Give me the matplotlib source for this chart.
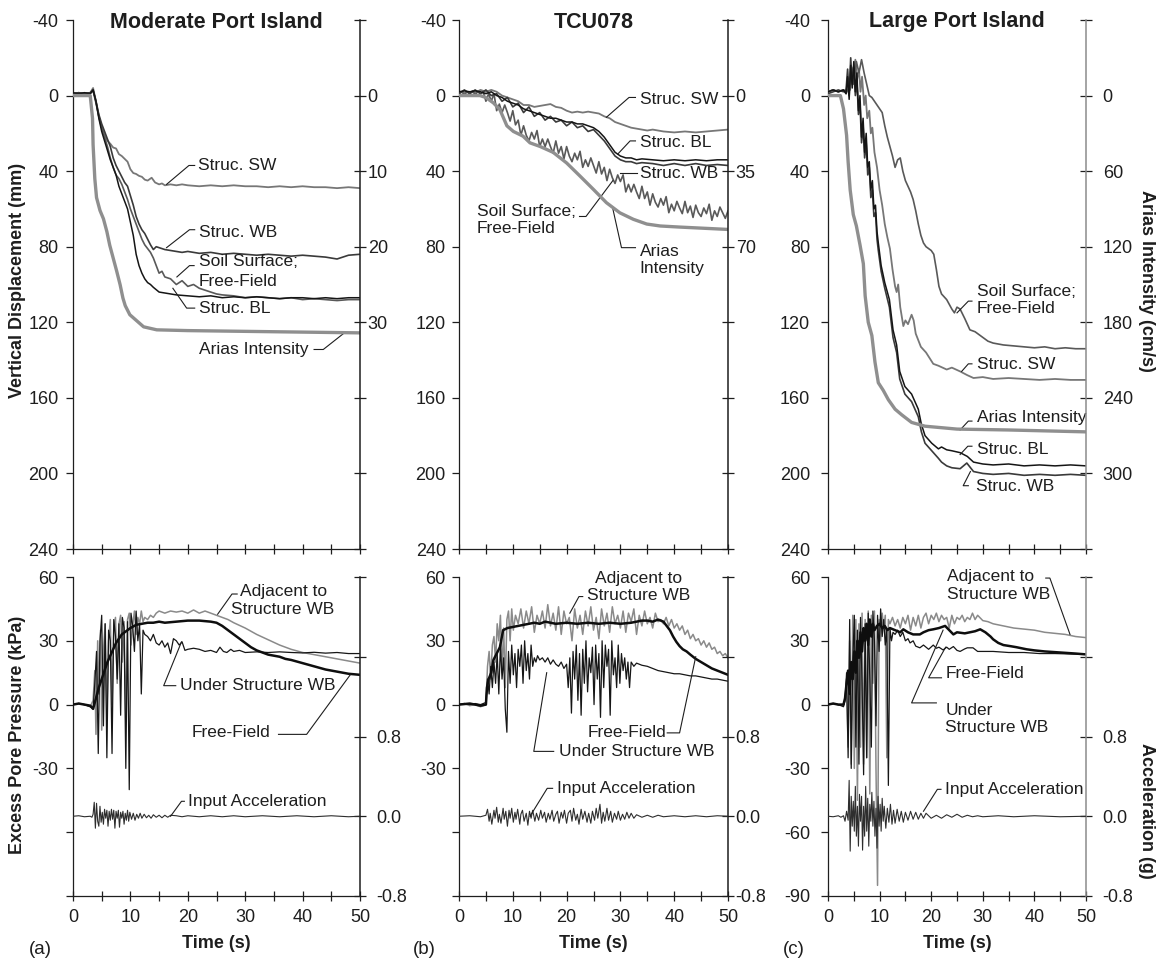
import matplotlib
matplotlib.use("Agg")
import matplotlib.pyplot as plt

plt.rcParams['font.family'] = ['Liberation Sans', 'DejaVu Sans']
plt.rcParams['axes.unicode_minus'] = False
INK = '#1e1e1e'
plt.rcParams['text.color'] = INK
plt.rcParams['axes.edgecolor'] = INK
plt.rcParams['xtick.color'] = INK
plt.rcParams['ytick.color'] = INK

# ---------------------------------------------------------------------------
# Settlement records: (time s, vertical displacement mm); Arias in cm/s
# ---------------------------------------------------------------------------
SW_A = [(0,-1),(1,-1.5),(2,-1),(3,-1.5),(3.5,-4),(4,3),(4.5,11),(5,17),(5.5,21),(6,24),(6.5,25.5),(7,27.5),(7.5,28),(8,31),(8.5,32),(9,33.5),(9.5,35),(10,39),(10.5,41),(11,41.5),(11.5,42.5),(12,43),(12.5,44.5),(13,45),(13.7,43.5),(14.3,46),(15,47),(15.5,46.5),(16,47.5),(17,47),(18,47.5),(19,47),(20,47.5),(22,48),(24,47.5),(26,48),(28,47.5),(30,48),(32,48),(34,48.5),(36,48),(38,48.5),(40,48),(42,48.5),(44,48.5),(46,49),(48,48.5),(50,49)]
WB_A = [(0,-1),(1,-1.5),(2,-1),(3,-1.5),(3.5,-3),(4,3),(4.5,10),(5,15),(5.5,19),(6,23),(6.5,27),(7,33),(7.5,37),(8,40),(8.5,43),(9,46),(9.5,48),(10,53),(10.5,58),(11,64),(11.5,68),(12,71),(12.5,73),(13,76),(13.5,79),(14,81.5),(14.5,80),(15,80.5),(16,81.5),(17,82),(18,82.5),(19,83),(20,82.5),(22,83.5),(24,83),(26,84),(28,83.5),(30,84),(32,84.5),(34,84),(36,84.5),(38,85),(40,84.5),(42,85),(44,85.5),(45,86),(46,86.5),(47,85.5),(48,84.5),(50,84)]
FF_A = [(0,-1),(1,-1),(2,-1.5),(3,-1),(3.5,-2.5),(4,4),(4.5,11),(5,17),(5.5,22),(6,27),(6.5,33),(7,38),(7.5,42),(8,44),(8.5,47),(9,51),(9.5,55),(10,60),(10.5,64),(11,68),(11.5,72),(12,76),(12.5,79),(13,81),(13.5,83),(14,86),(14.5,90),(15,94),(15.5,93),(16,96),(17,97),(18,100),(19,98),(20,101),(21,100),(22,102),(23,103),(24,104),(25,105),(26,105.5),(28,106),(30,107),(32,106.5),(34,107),(36,107.5),(38,107),(40,108),(42,107.5),(44,108),(46,108.5),(48,108),(50,108)]
BL_A = [(0,-1.5),(1,-1),(2,-1.5),(3,-1),(3.5,-3),(4,3),(4.5,12),(5,19),(5.5,24),(6,29),(6.5,34),(7,38),(7.5,42),(8,48),(8.5,52),(9,56),(9.5,60),(10,67),(10.5,74),(11,84),(11.5,90),(12,94),(12.5,97),(13,99),(13.5,100),(14,101.5),(15,104),(16,104.5),(17,105),(18,105.5),(20,106),(22,106.5),(24,106),(26,107),(28,106.5),(30,107),(32,106.5),(34,107),(36,107.5),(38,107),(40,107),(42,107.5),(44,107),(46,107.5),(48,107),(50,107)]
ARIAS_A = [(0,0),(3,0),(3.4,3),(3.5,6.5),(3.8,11),(4.1,13.5),(4.7,15.2),(5.3,16.3),(5.9,18),(6.4,19.8),(7,21.5),(7.6,23.2),(8.2,25),(8.7,26.8),(9.1,27.8),(9.9,29),(11.1,29.8),(12.3,30.6),(14.6,31),(20,31.1),(30,31.2),(40,31.3),(50,31.4)]

SW_B = [(0,-2),(1,-1.5),(2,-2),(3,-1.5),(4,-3),(5,-2),(6,-3),(7,-2),(8,0),(9,1),(10,2),(11,3),(12,5),(13,5),(14,6),(15,5.5),(16,5),(17,4.5),(18,6),(19,6.5),(20,8),(21,9),(22,8.5),(23,9),(24,8.5),(25,9),(26,9.5),(27,11),(28,12),(29,14),(30,15),(31,16),(32,17),(33,17.5),(34,18),(35,18.5),(36,18),(38,19),(40,19.5),(42,19),(44,19.5),(46,19),(48,18.5),(50,18)]
BL_B = [(0,-2),(1,-2.5),(2,-2),(3,-2.5),(4,-2),(5,-1),(6,-2),(7,0),(8,1),(9,3),(10,4),(11,5),(12,7),(13,8),(14,9),(15,10),(16,11),(17,12),(18,12),(19,13),(20,14),(21,14),(22,15),(23,15),(24,16),(25,17),(26,19),(27,22),(28,26),(29,30),(30,32),(31,33),(32,33),(33,34),(34,33.5),(36,34),(38,34.5),(40,34),(42,34.5),(44,34),(46,34.5),(48,34),(50,34)]
WB_B = [(0,-1),(1,-3),(2,-1),(3,-3),(4,-1),(5,-3),(6,0),(7,-1),(8,3),(9,1),(10,6),(11,4),(12,9),(13,6),(14,11),(15,9),(16,13),(17,11),(18,14),(19,13),(20,16),(21,14),(22,17),(23,16),(24,19),(25,18),(26,21),(27,24),(28,28),(29,32),(30,34),(31,35),(32,35),(33,36),(34,35.5),(36,36),(38,37),(40,36),(42,37),(44,36),(46,37),(48,36.5),(50,37)]
FF_B = [(0,-1),(0.5,-2),(1,-0.5),(1.5,-2),(2,-1),(2.5,-2.5),(3,-0.5),(3.5,-2),(4,-1),(4.5,-2),(5,3),(5.5,-1),(6,3),(6.5,-1),(7,8),(7.5,4.5),(8,9),(8.5,5),(9,9),(9.5,13.5),(10,8),(10.5,15.5),(11,13),(11.5,21),(12,16),(12.5,21),(13,24),(13.5,19.5),(14,23),(14.5,18.5),(15,27),(15.5,23),(16,27),(16.5,23),(17,27),(17.5,30.5),(18,24),(18.5,30.5),(19,27),(19.5,33.5),(20,27),(20.5,32),(21,35),(21.5,30.5),(22,34),(22.5,29.5),(23,38),(23.5,34),(24,37.5),(24.5,33),(25,37),(25.5,41),(26,35),(26.5,41.5),(27,38),(27.5,45),(28,39),(28.5,43.5),(29,46.5),(29.5,42),(30,45.5),(30.5,42),(31,51),(31.5,47),(32,51),(32.5,47),(33,51),(33.5,54.5),(34,48),(34.5,54.5),(35,51),(35.5,58),(36,52),(36.5,56.5),(37,59),(37.5,54.5),(38,58),(38.5,53.5),(39,62),(39.5,57.5),(40,61),(40.5,56),(41,59.5),(41.5,62.5),(42,56),(42.5,62),(43,58.5),(43.5,64.5),(44,58),(44.5,62),(45,64),(45.5,59.5),(46,62.5),(46.5,57.5),(47,66),(47.5,61),(48,64),(48.5,59),(49,62),(49.5,65),(50,61)]
ARIAS_B = [(0,0),(3.9,0),(5,0.9),(6.4,3.4),(7.6,6.5),(8.9,14),(10.1,16.6),(11.9,18.8),(13.2,21.9),(15.1,23.6),(17.5,26.3),(20,31.2),(22.5,37.3),(25,43.5),(27.4,49.6),(29.9,54.3),(32.4,57.3),(34.9,59.5),(37.4,60.4),(41,60.9),(50,62)]

SW_C = [(0,-2),(1,-3),(2,-2),(3,-3),(3.5,-2),(4,-8),(4.3,-3),(4.6,-15),(5,-10),(5.3,-19),(5.6,-8),(6,-14),(6.3,-2),(6.6,-10),(7,5),(7.3,0),(7.6,12),(8,8),(8.3,20),(8.6,17),(9,30),(9.5,38),(10,50),(10.5,58),(11,68),(11.5,75),(12,81),(12.5,92),(13,101),(13.3,104),(13.6,100),(14,112),(14.6,122),(15,119),(15.5,121),(16.2,116),(16.6,119),(17,126),(18,133),(19,136),(20.4,142),(21.4,143),(23,145),(24,144),(25.6,146),(27,148),(28.2,149.5),(30,149),(32,150),(35,149.5),(38,150),(41,150.5),(44,150),(47,150.5),(50,150.5)]
FF_C = [(0,-2),(1,-3),(2,-2),(3,-3),(3.5,-1),(4,-4),(4.5,-10),(5,-6),(5.5,-18),(6,-12),(6.5,-19),(7,-12),(7.5,-6),(8,0),(8.5,1),(9,3),(9.5,5),(10,7),(10.5,9),(11,16),(11.5,22),(12,27),(12.5,32),(13,38),(13.5,34),(14,33),(14.5,40),(15,45),(15.5,48),(16,51),(16.5,55),(17,61),(17.5,68),(18,74),(18.5,78),(19,80),(19.5,81),(20,82),(20.5,84),(21,92),(21.5,101),(22,105),(23,108),(24,113),(24.5,115),(25,112),(25.6,113),(26.5,118),(27.5,124),(28.5,125),(29.5,127),(31,130),(32,131),(34,132),(36,132.5),(38,133),(40,133.5),(42,133),(44,134),(46,133.5),(48,134),(50,134)]
BL_C = [(0,-2),(1,-3),(2,-2),(3,-3),(3.5,-1),(3.8,-10),(4.1,2),(4.4,-16),(4.7,-4),(5,-18),(5.3,-2),(5.6,-12),(5.9,8),(6.2,0),(6.5,22),(6.8,12),(7.1,30),(7.4,20),(7.7,38),(8,35),(8.3,50),(8.6,45),(8.9,60),(9.2,58),(9.5,72),(9.75,78),(10.3,90),(11,99),(11.9,108),(12.6,124),(13.3,132),(13.9,146),(14.9,154),(16.2,158),(17.5,166),(18.1,174),(18.8,180),(20.1,184),(21.4,187),(22,186),(23,187.5),(24,188),(25.6,189),(27,191),(28.2,194),(30,195),(32,195.5),(35,195),(38,196),(41,195.5),(44,196),(47,195.5),(50,196)]
WB_C = [(0,-1),(1,-2),(2,-3),(3,-2),(3.5,-3),(3.8,-14),(4.1,0),(4.4,-20),(4.7,-6),(5,-15),(5.3,0),(5.6,-8),(5.9,10),(6.2,4),(6.5,25),(6.8,16),(7.1,33),(7.4,25),(7.7,42),(8,38),(8.3,54),(8.6,50),(8.9,64),(9.2,62),(9.5,76),(9.75,82),(10.3,93),(11,102),(11.9,112),(12.6,128),(13.3,136),(13.9,150),(14.9,158),(16.2,162),(17.5,170),(18.1,178),(18.8,184),(20.1,188),(21.4,192),(22,194),(23,196),(24,197),(25.6,197.5),(26.9,194.5),(28.2,199),(30,200),(32,200.5),(35,200),(38,201),(41,200.5),(44,201),(47,200.5),(50,201)]
ARIAS_C = [(0,0),(2.4,0),(3,10.5),(3.6,31.5),(3.9,52.5),(4.3,75),(4.9,94.5),(5.5,103.5),(6.2,118.5),(6.85,133.5),(7.2,159),(7.8,180),(8.5,190.5),(9.1,211.5),(9.75,228),(10.7,234),(11.7,241.5),(13,249),(14.3,253.5),(16.2,259.5),(18.8,262.5),(25,264.8),(35,265.5),(50,267)]

# ---------------------------------------------------------------------------
# Pore pressure records (time s, kPa) and input motion (time s, g)
# ---------------------------------------------------------------------------
ADJ_A = [(0,0),(1,0.5),(2,0),(3,-1),(3.5,2),(3.8,16),(4.0,-14),(4.3,30),(4.5,5),(4.8,35),(5.0,-12),(5.3,25),(5.6,38),(5.9,-5),(6.2,30),(6.5,40),(6.8,0),(7.1,36),(7.4,41),(7.7,10),(8.0,38),(8.3,42),(8.6,20),(8.9,39),(9.2,-8),(9.5,40),(9.8,43),(10.1,28),(10.4,37),(10.7,44),(11.0,33),(11.3,41),(11.6,38),(11.9,44),(12.2,39),(12.5,41),(13,40),(13.5,42),(14,41),(14.5,43),(15,44),(16,43),(17,44),(18,43.5),(19,44),(20,43),(21,44.5),(22,43),(23,44),(24,43),(25,42),(26,41),(27,40),(28,38.5),(30,36),(32,33),(34,30.5),(36,28),(38,26),(40,24.5),(42,23.5),(44,22.5),(46,21.5),(48,20.5),(50,19.5)]
UND_A = [(0,0),(1,0.5),(2,0),(3,-1),(3.5,-2),(3.8,10),(4.1,25),(4.4,-23),(4.7,30),(5.0,42),(5.3,-10),(5.6,38),(5.9,-25),(6.2,35),(6.5,30),(6.8,-23),(7.1,40),(7.4,32),(7.7,12),(8.0,38),(8.3,-5),(8.6,41),(8.9,36),(9.2,-30),(9.5,39),(9.8,-40),(10.1,43),(10.4,37),(10.7,25),(11.0,44),(11.3,30),(11.6,38),(11.9,5),(12.2,35),(12.5,33),(13,32),(13.5,30),(14,33),(14.5,29),(15,28),(15.5,30),(16,27),(16.5,29),(17,24),(17.5,31),(18,30),(18.5,28),(19,29.5),(19.5,25.5),(20,26),(21,26.5),(22,26),(23,25),(24,25.5),(25,24.5),(25.6,27),(26.2,25),(26.8,24.5),(27.5,26),(28,25),(29,25.5),(30,24.5),(32,24.8),(34,24.5),(36,24.8),(38,24.5),(40,24.3),(42,24.6),(44,24.2),(46,24.5),(48,24),(50,24)]
FFP_A = [(0,0),(1,0.5),(2,0),(3,-0.5),(3.5,-2),(4,3),(4.5,8),(5,12),(5.5,16),(6,20),(6.5,23),(7,26),(7.5,29),(8,31),(8.5,33),(9,34),(9.5,35),(10,36),(11,37.5),(12,38),(13,38.5),(14,38.5),(15,39),(16,38.5),(18,39),(20,39.5),(22,39.5),(24,39),(25,38.5),(26,37),(27,35),(28,33),(29,31),(30,29),(31,27),(32,25.5),(33,24.5),(34,23.5),(35,23),(36,22.5),(37,21.5),(38,21),(40,19.5),(42,18),(44,16.5),(46,15.5),(48,14.5),(50,14)]
ACC_A = [(0,0),(1,0.005),(2,-0.005),(3,0),(3.3,-0.01),(3.5,0.02),(3.7,0.14),(3.9,-0.12),(4.1,0.13),(4.3,-0.05),(4.5,-0.1),(4.7,0.1),(4.9,-0.06),(5.1,0.04),(5.3,-0.08),(5.5,0.07),(5.7,-0.02),(5.9,0.06),(6.1,-0.1),(6.3,0.05),(6.5,-0.04),(6.7,0.07),(6.9,-0.03),(7.1,0.06),(7.3,-0.12),(7.5,0.05),(7.7,-0.02),(7.9,0.06),(8.1,-0.11),(8.3,0.04),(8.5,-0.02),(8.7,0.05),(8.9,-0.08),(9.1,0.03),(9.3,-0.04),(9.5,0.06),(9.7,-0.05),(9.9,0.04),(10.2,-0.03),(10.5,0.03),(10.8,-0.04),(11.1,0.02),(11.4,-0.02),(11.7,0.03),(12,-0.02),(12.4,0.02),(12.8,-0.015),(13.2,0.01),(13.6,-0.02),(14,0.015),(14.5,-0.01),(15,0.01),(15.5,-0.015),(16,0.01),(16.5,-0.01),(17,0.01),(18,0.005),(19,-0.005),(20,0.005),(22,-0.005),(24,0.005),(26,-0.005),(28,0.005),(30,-0.005),(33,0.005),(36,-0.005),(39,0.005),(42,-0.005),(45,0.005),(48,-0.005),(50,0)]

ADJ_B = [(0,0),(1,0.5),(2,-0.5),(3,0),(4,-1),(4.5,-0.5),(5,0),(5.3,18),(5.6,25),(5.9,12),(6.2,28),(6.5,32),(6.8,20),(7.1,38),(7.4,30),(7.7,42),(8,15),(8.3,36),(8.6,8),(8.9,40),(9.2,44),(9.5,30),(9.8,45),(10.1,35),(10.5,42),(11,38),(11.5,45),(12,36),(12.5,44),(13,38),(13.5,46),(14,34),(14.5,42),(15,38),(15.5,44),(16,36),(16.5,47),(17,37),(17.5,43),(18,35),(18.5,46),(19,33),(19.5,44),(20,38),(20.5,41),(21,30),(21.5,45),(22,36),(22.5,42),(23,33),(23.5,44),(24,37),(24.5,46),(25,35),(25.5,41),(26,31),(26.5,45),(27,37),(27.5,43),(28,34),(28.5,46),(29,38),(29.5,42),(30,36),(30.5,44),(31,34),(31.5,43),(32,39),(32.5,45),(33,33),(33.5,42),(34,37),(34.5,44),(35,38),(35.5,41),(36,36),(36.5,43),(37,39),(37.5,40),(38,38),(38.5,41),(39,37),(39.5,40),(40,36),(40.5,38),(41,35),(41.5,37),(42,33),(42.5,35),(43,31),(43.5,33),(44,30),(44.5,31),(45,28),(45.5,30),(46,27),(46.5,29),(47,26),(47.5,27),(48,24),(48.5,25),(49,23),(49.5,24),(50,22)]
UND_B = [(0,0),(1,0.5),(2,0),(3,0.5),(4,0),(5,1),(5.3,12),(5.6,5),(5.9,18),(6.2,8),(6.5,20),(6.8,10),(7.1,24),(7.4,5),(7.7,28),(8.0,12),(8.3,22),(8.6,-2),(8.9,-13),(9.2,25),(9.5,10),(9.8,28),(10.1,14),(10.4,24),(10.7,8),(11,26),(11.3,18),(11.6,28),(11.9,10),(12.2,30),(12.5,16),(12.8,24),(13.1,12),(13.4,28),(13.7,18),(14,22),(14.3,20),(14.6,23),(15,21),(15.5,22),(16,20),(16.5,22),(17,19),(17.5,21),(18,19),(18.5,18),(19,20),(19.5,17),(20,19),(20.3,8),(20.6,22),(20.9,-4),(21.2,25),(21.5,12),(21.8,28),(22.1,2),(22.4,24),(22.7,-5),(23,26),(23.3,10),(23.6,30),(23.9,6),(24.2,22),(24.5,15),(24.8,27),(25.1,0),(25.4,28),(25.7,12),(26,24),(26.3,-6),(26.6,30),(26.9,8),(27.2,28),(27.5,18),(27.8,26),(28.1,-5),(28.4,30),(28.7,14),(29,22),(29.3,8),(29.6,28),(29.9,10),(30.2,24),(30.5,16),(30.8,22),(31.1,12),(31.4,20),(31.7,8),(32,20),(32.5,18),(33,19.5),(34,18.5),(35,18),(36,17),(37,16),(38,15.5),(39,15),(40,14.5),(41,14.5),(42,14),(43,13.5),(44,13.5),(45,13),(46,12.5),(47,12),(48,12),(49,11.5),(50,11)]
FFP_B = [(0,0),(2,0.5),(4,-0.5),(5,0),(5.2,8),(5.5,12),(6,15),(6.4,21),(7,24),(7.6,27),(8.2,35),(9,36),(10,36.5),(11,37),(12,37.5),(13,38),(14,38.5),(15,38),(16,39),(17,38.5),(18,38),(20,38.5),(22,38),(24,38.5),(26,38),(28,38.5),(30,38),(32,38.5),(34,39.5),(35,39.5),(36,39),(37,40),(37.5,39.5),(38,39),(38.6,37),(39.2,35),(39.8,32),(40.4,29.5),(41,27.5),(41.6,26),(42.3,25),(43,23.5),(44,21.5),(45,20),(46,18.5),(47,17),(48,16),(49,15),(50,14)]
ACC_B = [(0,0),(2,0.005),(4,-0.005),(5,0.01),(5.3,0.07),(5.6,-0.05),(5.8,0.03),(6.1,-0.08),(6.5,0.06),(6.7,-0.02),(7,0.09),(7.3,-0.06),(7.5,0.02),(7.8,-0.07),(8.2,0.08),(8.4,-0.03),(8.7,0.05),(9,-0.1),(9.3,0.06),(9.5,-0.02),(9.8,0.08),(10.1,-0.06),(10.4,0.04),(10.6,-0.03),(10.9,0.07),(11.3,-0.08),(11.5,0.02),(11.8,0.06),(12.1,-0.05),(12.5,0.03),(12.8,-0.09),(13.1,0.05),(13.4,-0.02),(13.7,0.06),(14.1,-0.05),(14.4,0.03),(14.8,-0.04),(15.2,0.06),(15.5,-0.02),(15.9,0.04),(16.2,-0.06),(16.6,0.03),(16.9,-0.03),(17.3,0.06),(17.6,-0.05),(18,0.02),(18.3,0.05),(18.6,-0.07),(19,0.04),(19.3,-0.02),(19.6,0.06),(20,-0.07),(20.3,0.03),(20.7,0.06),(21,-0.05),(21.3,0.08),(21.7,-0.04),(22,0.02),(22.3,-0.08),(22.7,0.07),(23,-0.03),(23.4,0.05),(23.8,-0.06),(24.1,0.03),(24.5,-0.07),(24.8,0.05),(25.2,-0.04),(25.5,0.08),(25.8,-0.02),(26.2,0.12),(26.5,-0.07),(26.8,0.04),(27.1,-0.05),(27.5,0.08),(27.8,-0.04),(28.2,0.05),(28.5,-0.06),(28.9,0.03),(29.3,-0.03),(29.6,0.05),(30,-0.04),(30.4,0.02),(30.8,-0.03),(31.2,0.04),(31.6,-0.02),(32,0.03),(32.5,-0.02),(33,0.015),(34,-0.01),(35,0.01),(36,-0.01),(37,0.01),(38,-0.005),(40,0.005),(42,-0.005),(44,0.005),(46,-0.005),(48,0.005),(50,0)]

ADJ_C = [(0,0),(1,0.5),(2,0),(3,0),(3.3,2),(3.6,8),(3.9,-20),(4.2,30),(4.5,-28),(4.8,42),(5.1,-30),(5.4,40),(5.7,-45),(6.0,38),(6.3,-20),(6.6,43),(6.9,-28),(7.2,40),(7.5,-25),(7.8,44),(8.1,-42),(8.4,42),(8.7,10),(9.0,44),(9.3,-30),(9.6,-85),(9.9,40),(10.2,30),(10.5,43),(10.8,36),(11.1,42),(11.4,-25),(11.7,40),(12,38),(12.5,41),(13,37),(13.5,40),(14,36),(14.5,41),(15,38),(15.5,42),(16,35),(16.5,41),(17,37),(17.5,42),(18,36),(18.5,41),(19,43),(19.5,38),(20,42),(20.5,40),(21,43),(21.5,39),(22,42),(22.5,40),(23,41),(23.5,36),(24,42),(24.5,38),(25,41),(25.5,40),(26,42),(26.5,39),(27,41),(27.5,40),(28,43),(28.5,40),(29,42),(30,39.5),(31,39),(32,38),(34,37),(36,36),(38,35.5),(40,35),(42,34),(44,33.5),(46,33),(48,32),(50,31.5)]
UND_C = [(0,0),(1,0.5),(2,0),(3,-1),(3.3,2),(3.6,15),(3.9,-25),(4.2,40),(4.5,-30),(4.8,20),(5.1,42),(5.4,-20),(5.7,35),(6.0,-28),(6.3,41),(6.6,10),(6.9,-33),(7.2,38),(7.5,-25),(7.8,43),(8.1,12),(8.4,-20),(8.7,44),(9.0,30),(9.3,-10),(9.6,42),(9.9,25),(10.2,45),(10.5,32),(10.8,40),(11.1,28),(11.4,35),(11.7,-38),(12.0,36),(12.3,30),(12.6,34),(13,33),(13.5,35),(14,32),(14.5,34),(15,30),(15.5,31),(15.9,29),(16.5,30),(17,27.5),(17.8,26.7),(18.5,28),(19,27),(19.5,26),(20.4,28),(21,26.5),(21.5,27),(22.3,25.7),(23,27),(23.5,26),(24.3,27.3),(25,25.5),(25.6,25),(26.5,26.2),(27,26.7),(28.1,26.7),(29,25),(30,25),(32,25),(35,24.5),(38,24.5),(41,24),(44,24),(47,23.8),(50,23.6)]
FFP_C = [(0,0),(1,0.5),(2,0),(3,0),(3.3,3),(3.6,10),(3.9,16),(4.2,5),(4.5,20),(4.8,12),(5.1,25),(5.4,15),(5.7,30),(6,22),(6.3,34),(6.6,25),(6.9,36),(7.2,30),(7.5,38),(7.8,28),(8.1,40),(8.4,32),(8.7,38),(9,35),(9.5,37),(10,38),(10.5,36),(11,37),(11.5,35),(12,36),(13,35),(14,34),(14.6,35.4),(15.5,34),(16.5,33),(17.8,33),(18.5,34),(19.5,35),(20.4,35.4),(21.5,36),(22.7,37),(23.5,35),(24.3,33),(25,34),(25.6,33.8),(26.5,33.5),(27.5,34),(28.5,34.5),(29.5,35.4),(30.5,34),(31.5,32),(32,30.7),(33,29),(34,28),(35.3,27.5),(36.5,27),(38.5,26),(40,25.5),(42,25),(45,24.5),(48,24),(50,23.6)]
ACC_C = [(0,0),(1,-0.005),(2,0.005),(2.5,-0.01),(3,0.005),(3.3,-0.05),(3.6,0.05),(3.9,-0.04),(4.1,0.36),(4.3,-0.35),(4.5,0.2),(4.7,-0.1),(4.9,0.15),(5.1,-0.15),(5.3,0.3),(5.5,-0.2),(5.7,0.1),(5.9,-0.3),(6.1,0.22),(6.3,-0.05),(6.5,0.2),(6.7,-0.34),(6.9,0.1),(7.1,-0.2),(7.3,0.3),(7.5,-0.15),(7.7,0.18),(7.9,-0.3),(8.1,0.12),(8.3,-0.05),(8.5,0.24),(8.7,-0.1),(8.9,0.15),(9.1,-0.2),(9.3,0.08),(9.5,-0.32),(9.7,0.2),(9.9,-0.1),(10.1,0.12),(10.3,-0.15),(10.5,0.18),(10.7,-0.05),(10.9,0.1),(11.2,-0.12),(11.5,0.08),(11.8,-0.06),(12.1,0.12),(12.4,-0.08),(12.7,0.06),(13,-0.07),(13.4,0.07),(13.8,-0.05),(14.2,0.05),(14.6,-0.06),(15,0.04),(15.5,-0.04),(16,0.05),(16.5,-0.03),(17,0.04),(17.5,-0.03),(18,0.03),(18.5,-0.02),(19,0.03),(20,-0.02),(21,0.01),(22,-0.02),(23,0.015),(24,-0.01),(25,0.02),(26,-0.01),(27,0.01),(28,-0.005),(29,0.005),(30,-0.005),(33,0.005),(36,-0.005),(40,0.005),(45,-0.005),(50,0)]

TITLES = ['Moderate Port Island', 'TCU078', 'Large Port Island']
PANEL_TAGS = ['(a)', '(b)', '(c)']

DISP_TICKS = list(range(-40, 241, 40))
ARIAS_LIMS = [(60, -10), (210, -35), (360, -60)]
ARIAS_TICKS = [list(range(-10, 61, 10)), list(range(-35, 211, 35)), list(range(-60, 361, 60))]
ARIAS_LABELS = [['', '0', '10', '20', '30', '', '', ''],
                ['', '0', '35', '70', '', '', '', ''],
                ['', '0', '60', '120', '180', '240', '300', '']]
PORE_TICKS = [-90, -60, -30, 0, 30, 60]
PORE_LABELS = [['', '', '-30', '0', '30', '60'],
               ['', '', '-30', '0', '30', '60'],
               ['-90', '-60', '-30', '0', '30', '60']]
ACC_TICKS = [-0.8, 0.0, 0.8, 1.6, 2.4]
ACC_LABELS = ['-0.8', '0.0', '0.8', '', '']
TIME_LABELS = ['0', '10', '20', '30', '40', '50']

# ---------------------------------------------------------------------------
W, H = 1159, 960
fig = plt.figure(figsize=(W / 100, H / 100), dpi=100)

COLS = [(73, 287), (459, 269), (828, 258)]
TOP_ROW = (20, 549)
BOT_ROW = (577, 896)
LEFT_PAD = [5.5, 4.5, 8.0]
RIGHT_PAD_TOP = [1.5, 1.5, 8.0]
RIGHT_PAD_BOT = [8.0, 1.5, 8.0]
RIGHT_SPINE = [INK, INK, '#8c8c8c']

TICK_FS = 13


def rect(col, row):
    x0, w = col
    y0, y1 = row
    return [x0 / W, 1 - y1 / H, w / W, (y1 - y0) / H]


def split(pairs):
    return [p[0] for p in pairs], [p[1] for p in pairs]


def draw(ax, pairs, **kw):
    xs, ys = split(pairs)
    ax.plot(xs, ys, solid_joinstyle='round', **kw)


def callout(ax, text, x, y, pts=None, ha='left', va='center', ls=1.2):
    ax.text(x, y, text, ha=ha, va=va, fontsize=12.5, linespacing=ls,
            zorder=8, clip_on=False)
    if pts:
        xs, ys = split(pts)
        ax.plot(xs, ys, color=INK, lw=0.8, zorder=8, clip_on=False)


def frame(ax, twin, i, labels_x):
    ax.set_xlim(0, 50)
    ax.set_xticks(range(0, 51, 10))
    ax.set_xticks(range(5, 50, 10), minor=True)
    if labels_x:
        ax.set_xticklabels(TIME_LABELS)
    else:
        ax.set_xticklabels([])
    ax.tick_params(axis='x', which='both', direction='inout', length=7,
                   width=0.9, labelsize=TICK_FS, pad=6)
    ax.tick_params(axis='y', direction='out', length=5, width=0.9,
                   labelsize=TICK_FS, pad=LEFT_PAD[i])
    for a in (ax, twin):
        a.spines['top'].set_visible(False)
        for s in ('left', 'bottom', 'right'):
            a.spines[s].set_linewidth(0.9)
    ax.spines['right'].set_visible(False)
    twin.spines['left'].set_visible(False)
    twin.spines['bottom'].set_visible(False)
    twin.spines['right'].set_color(RIGHT_SPINE[i])
    twin.spines['right'].set_linewidth(1.1)
    ax.patch.set_visible(False)


C_ARIAS = '#8f8f8f'
C_SW = '#777777'
C_WB = '#3a3a3a'
C_FF = '#595959'
C_BL = '#151515'
C_ADJ = '#8a8a8a'

disp_sets = [(SW_A, WB_A, FF_A, BL_A, ARIAS_A),
             (SW_B, WB_B, FF_B, BL_B, ARIAS_B),
             (SW_C, WB_C, FF_C, BL_C, ARIAS_C)]
pore_sets = [(ADJ_A, UND_A, FFP_A, ACC_A),
             (ADJ_B, UND_B, FFP_B, ACC_B),
             (ADJ_C, UND_C, FFP_C, ACC_C)]

tops, tops2, bots, bots2 = [], [], [], []
for i in range(3):
    # --- settlement row ---
    ax = fig.add_axes(rect(COLS[i], TOP_ROW))
    tw = ax.twinx()
    sw, wb, ff, bl, ar = disp_sets[i]
    draw(ax, sw, color=C_SW, lw=1.3, zorder=3)
    draw(ax, ff, color=C_FF, lw=1.2, zorder=3)
    draw(ax, wb, color=C_WB, lw=1.2, zorder=4)
    draw(ax, bl, color=C_BL, lw=1.1, zorder=4)
    draw(tw, ar, color=C_ARIAS, lw=2.4, zorder=2)
    ax.set_ylim(240, -40)
    ax.set_yticks(DISP_TICKS)
    tw.set_ylim(*ARIAS_LIMS[i])
    tw.set_yticks(ARIAS_TICKS[i])
    tw.set_yticklabels(ARIAS_LABELS[i])
    tw.tick_params(axis='y', direction='inout', length=8, width=0.9,
                   labelsize=TICK_FS, pad=RIGHT_PAD_TOP[i], colors=INK)
    frame(ax, tw, i, labels_x=False)
    tops.append(ax)
    tops2.append(tw)

    # --- pore pressure row ---
    bx = fig.add_axes(rect(COLS[i], BOT_ROW))
    bt = bx.twinx()
    adj, und, ffp, acc = pore_sets[i]
    draw(bx, adj, color=C_ADJ, lw=1.1, zorder=3)
    draw(bx, und, color='#161616', lw=0.9, zorder=4)
    draw(bx, ffp, color='#0e0e0e', lw=1.8, zorder=5)
    draw(bt, acc, color='#2e2e2e', lw=0.8, zorder=3)
    bx.set_ylim(-90, 60)
    bx.set_yticks(PORE_TICKS)
    bx.set_yticklabels(PORE_LABELS[i])
    bt.set_ylim(-0.8, 2.4)
    bt.set_yticks(ACC_TICKS)
    bt.set_yticklabels(ACC_LABELS)
    bt.tick_params(axis='y', direction='inout', length=8, width=0.9,
                   labelsize=TICK_FS, pad=RIGHT_PAD_BOT[i], colors=INK)
    frame(bx, bt, i, labels_x=True)
    bots.append(bx)
    bots2.append(bt)

    cx = (COLS[i][0] + COLS[i][1] / 2) / W
    fig.text(cx, 1 - 22 / H, TITLES[i], ha='center', va='center',
             fontsize=15.5, fontweight='bold')
    fig.text(cx, 1 - 944 / H, 'Time (s)', ha='center', va='center',
             fontsize=13, fontweight='bold')

for x, tag in zip([40, 424, 794], PANEL_TAGS):
    fig.text(x / W, 1 - 950 / H, tag, ha='center', va='center', fontsize=13.5)

fig.text(18 / W, 1 - 280 / H, 'Vertical Displacement (mm)', rotation=90,
         ha='center', va='center', fontsize=13, fontweight='bold')
fig.text(18 / W, 1 - 735 / H, 'Excess Pore Pressure (kPa)', rotation=90,
         ha='center', va='center', fontsize=13, fontweight='bold')
fig.text(1147 / W, 1 - 281 / H, 'Arias Intensity (cm/s)', rotation=270,
         ha='center', va='center', fontsize=13, fontweight='bold')
fig.text(1147 / W, 1 - 811 / H, 'Acceleration (g)', rotation=270,
         ha='center', va='center', fontsize=13, fontweight='bold')

# --- labels with leader lines, settlement row (mm units) ---
a, b, c = tops
callout(a, 'Struc. SW', 21.8, 37, [(21.2, 37), (20.2, 37), (16.3, 47)])
callout(a, 'Struc. WB', 21.9, 72.5, [(21.2, 71), (20.3, 71), (16.3, 80.5)])
callout(a, 'Soil Surface;\nFree-Field', 21.9, 93,
        [(21.1, 90), (20.3, 90), (18.1, 96)], ls=1.45)
callout(a, 'Struc. BL', 22.0, 112.5, [(21.2, 112.5), (19.8, 112.5), (17.4, 102)])
callout(a, 'Arias Intensity', 41.0, 134.4, [(42.0, 134.4), (43.6, 134.4), (47.4, 125.3)],
        ha='right')

callout(b, 'Struc. SW', 33.6, 2, [(32.8, 1), (31.6, 1), (27.4, 11.5)])
callout(b, 'Struc. BL', 33.6, 25, [(32.8, 24), (31.8, 24), (29.5, 31)])
callout(b, 'Struc. WB', 33.6, 41, [(33.0, 41), (30.0, 41)])
callout(b, 'Soil Surface;\nFree-Field', 3.3, 66, [(22.4, 64), (23.6, 64), (28.6, 45)])
callout(b, 'Arias\nIntensity', 33.6, 87, [(32.8, 80.5), (30.2, 80.5), (28.6, 60)])

callout(c, 'Soil Surface;\nFree-Field', 28.9, 108.3, [(27.9, 108.8), (27.2, 108.8), (25.0, 115)])
callout(c, 'Struc. SW', 28.8, 142.3, [(27.9, 142), (27.2, 142), (25.9, 146)])
callout(c, 'Arias Intensity', 28.9, 170.5, [(27.9, 172.3), (27.2, 172.3), (25.6, 177)])
callout(c, 'Struc. BL', 28.9, 187.3, [(27.9, 185.6), (27.1, 185.6), (25.6, 190)])
callout(c, 'Struc. WB', 28.6, 206.7, [(27.6, 199), (26.2, 206.5), (27.2, 206.5)])

# --- labels with leader lines, pore pressure row (kPa / g units) ---
a, b, c = bots
a2, b2, c2 = bots2
callout(a, 'Adjacent to\nStructure WB', 36.6, 49, [(28.6, 52), (27.7, 52), (25.2, 42.5)],
        ha='center')
callout(a, 'Under Structure WB', 18.6, 8.9, [(17.9, 8.9), (15.8, 8.9), (18.9, 29.5)])
callout(a, 'Free-Field', 34.3, -13.3, [(35.8, -14), (40.7, -14), (48.3, 14)], ha='right')
callout(a2, 'Input Acceleration', 20.1, 0.143, [(19.4, 0.15), (18.9, 0.15), (17.0, 0.0)])

callout(b, 'Adjacent to\nStructure WB', 33.4, 55.3, [(23.0, 50.8), (22.3, 50.8), (20.6, 43)],
        ha='center')
callout(b, 'Free-Field', 38.6, -13.3, [(38.7, -13.3), (41.0, -13.3), (44.0, 22.5)], ha='right')
callout(b, 'Under Structure WB', 18.5, -21.9, [(17.6, -22), (13.9, -22), (16.3, 15)])
callout(b2, 'Input Acceleration', 18.2, 0.28, [(17.4, 0.28), (16.4, 0.28), (13.2, 0.0)])

callout(c, 'Adjacent to\nStructure WB', 23.0, 56, [(42.2, 59.5), (43.0, 59.5), (46.9, 33)])
callout(c, 'Free-Field', 22.7, 14.4, [(22.0, 12.6), (19.5, 12.6), (22.8, 27)])
callout(c, 'Under\nStructure WB', 22.7, -6.7, [(21.0, 0.8), (16.2, 0.8), (22.3, 35)])
callout(c2, 'Input Acceleration', 22.7, 0.27, [(21.9, 0.27), (21.2, 0.27), (18.5, 0.05)])

fig.savefig('out.png', dpi=100)
